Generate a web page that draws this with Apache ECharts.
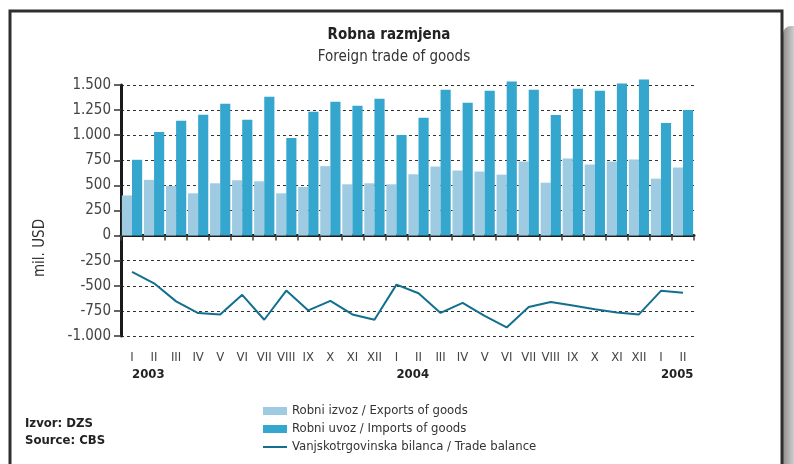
<!DOCTYPE html>
<html>
<head>
<meta charset="utf-8">
<script src="https://cdn.jsdelivr.net/npm/echarts@6/dist/echarts.min.js"></script>
<style>
html,body{margin:0;padding:0;background:#fff;}
#chart{width:794px;height:464px;}
</style>
</head>
<body>
<div id="chart"></div>
<script>
var months = ['I','II','III','IV','V','VI','VII','VIII','IX','X','XI','XII',
              'I','II','III','IV','V','VI','VII','VIII','IX','X','XI','XII',
              'I','II'];
var years = ['2003','','','','','','','','','','','',
             '2004','','','','','','','','','','','',
             '2005',''];
// mil. USD
var exportsData = [400,555,495,421,521,551,541,421,484,692,511,521,
                   511,611,688,648,638,607,738,527,768,708,738,758,
                   567,678];
var importsData = [755,1032,1143,1203,1313,1153,1383,972,1233,1333,1293,1363,
                   1002,1173,1453,1322,1443,1534,1453,1201,1463,1443,1514,1554,
                   1121,1252];
var balanceData = [-362,-475,-655,-772,-785,-590,-838,-548,-745,-650,-785,-838,
                   -488,-574,-770,-670,-800,-915,-712,-662,-697,-734,-765,-785,
                   -550,-570];

var FONT = '"Liberation Sans Narrow","DejaVu Sans Condensed",sans-serif';

function thousands(v){
    var s = Math.abs(v).toString();
    if(s.length>3) s = s.slice(0,s.length-3)+'.'+s.slice(s.length-3);
    return (v<0?'-':'')+s;
}

var chart = echarts.init(document.getElementById('chart'));
var option = {
    animation: false,
    textStyle: {fontFamily: FONT},
    grid: {left:121, right:100, top:85, bottom:128},
    graphic: [
        {type:'rect', shape:{x:783, y:26, width:12, height:440, r:[8,0,0,0]},
         style:{fill:{type:'linear',x:0,y:0,x2:1,y2:0,colorStops:[{offset:0,color:'#8e8e8e'},{offset:1,color:'#d4d4d4'}]}}},
        {type:'rect', shape:{x:10, y:11, width:772, height:462},
         style:{fill:'none', stroke:'#2e2e2e', lineWidth:3}},
        {type:'text', x:389, y:35, style:{text:'Robna razmjena', fill:'#222',
            font:'bold 15px '+FONT, textAlign:'center', textVerticalAlign:'middle'}},
        {type:'text', x:394, y:57, style:{text:'Foreign trade of goods', fill:'#333',
            font:'15px '+FONT, textAlign:'center', textVerticalAlign:'middle'}},
        {type:'text', x:40, y:248, rotation:Math.PI/2, style:{text:'mil. USD', fill:'#333',
            font:'15px '+FONT, textAlign:'center', textVerticalAlign:'middle'}},
        {type:'text', x:25, y:424, style:{text:'Izvor: DZS', fill:'#222',
            font:'bold 13px '+FONT, textVerticalAlign:'middle'}},
        {type:'text', x:25, y:441, style:{text:'Source: CBS', fill:'#222',
            font:'bold 13px '+FONT, textVerticalAlign:'middle'}}
    ],
    legend: {
        orient:'vertical', left:257, top:399,
        itemWidth:24, itemHeight:8, itemGap:4,
        textStyle:{fontSize:13, color:'#333', fontFamily:FONT, lineHeight:14},
        data:[
            {name:'Robni izvoz / Exports of goods', icon:'rect'},
            {name:'Robni uvoz / Imports of goods', icon:'rect'},
            {name:'Vanjskotrgovinska bilanca / Trade balance',
             itemStyle:{color:'rgba(0,0,0,0)', borderColor:'rgba(0,0,0,0)', borderWidth:0, opacity:0}}
        ]
    },
    xAxis: [
        {type:'category', data:months, boundaryGap:true,
         axisLine:{onZero:true, lineStyle:{color:'#1a1a1a', width:3}},
         axisTick:{show:true, length:5, lineStyle:{color:'#444', width:1.5}},
         axisLabel:{show:false}},
        {type:'category', data:months, position:'bottom',
         axisLine:{show:false, onZero:false}, axisTick:{show:false},
         axisLabel:{interval:0, margin:15, fontSize:13, color:'#444', fontFamily:FONT}},
        {type:'category', data:years, position:'bottom',
         axisLine:{show:false, onZero:false}, axisTick:{show:false},
         axisLabel:{interval:0, margin:32, fontSize:13, fontWeight:'bold', color:'#222', align:'left', fontFamily:FONT}}
    ],
    yAxis: {
        type:'value', min:-1000, max:1500, interval:250,
        axisLine:{show:true, lineStyle:{color:'#1a1a1a', width:3}},
        axisTick:{show:true, length:7, lineStyle:{color:'#333', width:1.5}},
        axisLabel:{formatter:thousands, fontSize:15, color:'#444', margin:10, fontFamily:FONT},
        splitLine:{show:true, lineStyle:{color:'#333', width:1, type:[3,3]}}
    },
    series: [
        {name:'Robni izvoz / Exports of goods', type:'bar', data:exportsData, clip:false,
         itemStyle:{color:'#9ecbe2'}, barGap:'0%', barCategoryGap:'8%'},
        {name:'Robni uvoz / Imports of goods', type:'bar', data:importsData, clip:false,
         itemStyle:{color:'#35a6cd'}, barGap:'0%', barCategoryGap:'8%'},
        {name:'Vanjskotrgovinska bilanca / Trade balance', type:'line', data:balanceData,
         symbol:'none', lineStyle:{color:'#126f8f', width:2}, itemStyle:{color:'#126f8f'}}
    ]
};
chart.setOption(option);
</script>
</body>
</html>
